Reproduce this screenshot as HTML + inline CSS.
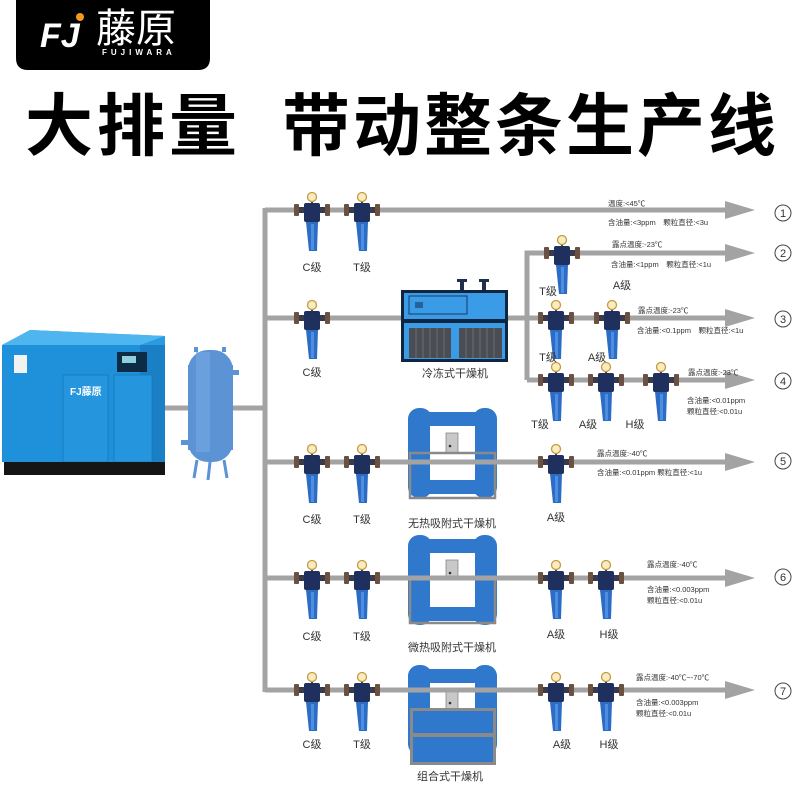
<!DOCTYPE html>
<html><head><meta charset="utf-8"><style>
html,body{margin:0;padding:0;background:#fff;}
svg{display:block;}
text{font-family:"Liberation Sans","Noto Sans CJK SC",sans-serif;}
</style></head><body>
<svg width="800" height="800" viewBox="0 0 800 800" xmlns="http://www.w3.org/2000/svg">
<defs>
<g id="f">
  <line x1="0" y1="-12" x2="0" y2="-6" stroke="#444" stroke-width="2"/>
  <circle cx="0" cy="-13" r="4.5" fill="#f7ecc2" stroke="#c79a3a" stroke-width="1.3"/>
  <rect x="-14" y="-3" width="28" height="6" fill="#3a3a4a"/>
  <rect x="-18" y="-6" width="5" height="12" rx="1" fill="#6b5142"/>
  <rect x="13" y="-6" width="5" height="12" rx="1" fill="#6b5142"/>
  <rect x="-8" y="-7" width="16" height="19" rx="2" fill="#1f2f5e"/>
  <polygon points="-6,12 6,12 5,41 -3,41" fill="#2c6cc4"/>
  <rect x="-1" y="14" width="3" height="26" fill="#4d8ee0"/>
</g>
<g id="ad">
  <rect x="0" y="0" width="24" height="90" rx="11" fill="#2f78cc"/>
  <rect x="65" y="0" width="24" height="90" rx="11" fill="#2f78cc"/>
  <rect x="12" y="4" width="65" height="82" fill="#2f78cc"/>
  <rect x="22" y="18" width="45" height="54" fill="#fff"/>
  <rect x="38" y="25" width="12" height="20" fill="#c8c8c8" stroke="#888" stroke-width="0.8"/>
  <circle cx="42" cy="38" r="1.3" fill="#333"/>
</g>
</defs>

<!-- logo -->
<path d="M16,0 H210 V58 Q210,70 198,70 H28 Q16,70 16,58 Z" fill="#000"/>
<text x="40" y="47" font-size="34" font-weight="bold" font-style="italic" fill="#fff">FJ</text>
<circle cx="80" cy="17" r="4" fill="#f39a1e"/>
<text x="96" y="42" font-size="40" fill="#fff">藤原</text>
<text x="102" y="55" font-size="8" font-weight="bold" fill="#fff" letter-spacing="4">FUJIWARA</text>

<!-- title -->
<text x="25" y="150" font-size="68" font-weight="bold" fill="#000" textLength="212">大排量</text>
<text x="282" y="150" font-size="68" font-weight="bold" fill="#000" textLength="494">带动整条生产线</text>

<!-- pipes -->
<g stroke="#a3a3a3" stroke-width="5" fill="none">
  <line x1="160" y1="408" x2="267" y2="408"/>
  <line x1="265" y1="208" x2="265" y2="692"/>
  <polyline points="265,210 730,210"/>
  <line x1="265" y1="318" x2="730" y2="318"/>
  <polyline points="527,380 527,253 730,253"/>
  <line x1="527" y1="380" x2="730" y2="380"/>
  <line x1="265" y1="462" x2="730" y2="462"/>
  <line x1="265" y1="578" x2="730" y2="578"/>
  <line x1="265" y1="690" x2="730" y2="690"/>
</g>
<g fill="#a3a3a3">
  <polygon points="725,201 755,210 725,219"/>
  <polygon points="725,244 755,253 725,262"/>
  <polygon points="725,309 755,318 725,327"/>
  <polygon points="725,371 755,380 725,389"/>
  <polygon points="725,453 755,462 725,471"/>
  <polygon points="725,569 755,578 725,587"/>
  <polygon points="725,681 755,690 725,699"/>
</g>

<!-- circled numbers -->
<g fill="none" stroke="#444" stroke-width="1">
  <circle cx="783" cy="213" r="8"/><circle cx="783" cy="253" r="8"/><circle cx="783" cy="319" r="8"/>
  <circle cx="783" cy="381" r="8"/><circle cx="783" cy="461" r="8"/><circle cx="783" cy="577" r="8"/><circle cx="783" cy="691" r="8"/>
</g>
<g font-size="11" fill="#333" text-anchor="middle">
  <text x="783" y="217">1</text><text x="783" y="257">2</text><text x="783" y="323">3</text>
  <text x="783" y="385">4</text><text x="783" y="465">5</text><text x="783" y="581">6</text><text x="783" y="695">7</text>
</g>

<!-- compressor -->
<polygon points="2,345 30,330 165,336 165,462 2,462" fill="#2a9be0"/>
<polygon points="2,345 30,330 165,336 140,345" fill="#4fb5ee"/>
<rect x="2" y="345" width="138" height="117" fill="#1f90da"/>
<rect x="140" y="345" width="25" height="117" fill="#1a7fc4"/>
<rect x="63" y="375" width="45" height="87" fill="#2596de" stroke="#1677b8" stroke-width="0.8"/>
<rect x="114" y="375" width="38" height="87" fill="#2596de" stroke="#1677b8" stroke-width="0.8"/>
<rect x="117" y="352" width="30" height="20" fill="#0d2b44"/>
<rect x="122" y="356" width="14" height="7" fill="#8fd0e0"/>
<rect x="14" y="355" width="13" height="18" fill="#f2f2f2"/>
<text x="70" y="395" font-size="10" font-weight="bold" fill="#fff">FJ藤原</text>
<rect x="4" y="462" width="161" height="13" fill="#151515"/>

<!-- tank -->
<rect x="188" y="350" width="45" height="112" rx="20" fill="#5b93d4"/>
<rect x="188" y="365" width="45" height="85" fill="#5b93d4"/>
<rect x="196" y="352" width="14" height="100" fill="#74a8e2" opacity="0.6"/>
<rect x="233" y="370" width="6" height="5" fill="#5b93d4"/>
<rect x="181" y="440" width="7" height="5" fill="#5b93d4"/>
<g stroke="#5b93d4" stroke-width="3"><line x1="197" y1="460" x2="194" y2="478"/><line x1="224" y1="460" x2="227" y2="478"/><line x1="210" y1="462" x2="208" y2="480"/></g>
<rect x="194" y="347" width="4" height="5" fill="#5b93d4"/><rect x="222" y="347" width="4" height="5" fill="#5b93d4"/>

<!-- refrigerated dryer -->
<rect x="460" y="279" width="4" height="11" fill="#1f2f4e"/><rect x="457" y="279" width="10" height="3" fill="#1f2f4e"/>
<rect x="482" y="279" width="4" height="11" fill="#1f2f4e"/><rect x="479" y="279" width="10" height="3" fill="#1f2f4e"/>
<rect x="401" y="290" width="107" height="72" fill="#0f2540"/>
<rect x="404" y="293" width="101" height="26" fill="#3a9be6"/>
<rect x="404" y="323" width="101" height="36" fill="#3a9be6"/>
<rect x="409" y="296" width="58" height="18" fill="none" stroke="#1a3a66" stroke-width="1"/>
<rect x="415" y="302" width="8" height="6" fill="#1a3a66" opacity="0.6"/>
<rect x="409" y="328" width="42" height="30" fill="#4a4e54"/>
<rect x="459" y="328" width="43" height="30" fill="#4a4e54"/>
<g stroke="#6a6e74" stroke-width="1"><line x1="416" y1="328" x2="416" y2="358"/><line x1="423" y1="328" x2="423" y2="358"/><line x1="430" y1="328" x2="430" y2="358"/><line x1="437" y1="328" x2="437" y2="358"/><line x1="444" y1="328" x2="444" y2="358"/>
<line x1="466" y1="328" x2="466" y2="358"/><line x1="473" y1="328" x2="473" y2="358"/><line x1="480" y1="328" x2="480" y2="358"/><line x1="487" y1="328" x2="487" y2="358"/><line x1="494" y1="328" x2="494" y2="358"/></g>

<!-- adsorption dryers -->
<use href="#ad" x="408" y="408"/>
<rect x="410" y="453" width="85" height="45" fill="none" stroke="#8a8a8a" stroke-width="2.5"/>
<line x1="408" y1="462" x2="497" y2="462" stroke="#a3a3a3" stroke-width="5"/>
<use href="#ad" x="408" y="535"/>
<rect x="410" y="578" width="85" height="45" fill="none" stroke="#8a8a8a" stroke-width="2.5"/>
<line x1="408" y1="578" x2="497" y2="578" stroke="#a3a3a3" stroke-width="5"/>
<use href="#ad" x="408" y="665"/>
<line x1="408" y1="690" x2="497" y2="690" stroke="#a3a3a3" stroke-width="5"/>
<rect x="410" y="708" width="86" height="57" fill="#8a8a8a"/>
<rect x="413" y="711" width="80" height="22" fill="#2f78cc"/>
<rect x="413" y="737" width="80" height="25" fill="#2f78cc"/>

<!-- filters -->
<use href="#f" x="312" y="210"/><use href="#f" x="362" y="210"/>
<use href="#f" x="562" y="253"/>
<use href="#f" x="312" y="318"/><use href="#f" x="556" y="318"/><use href="#f" x="612" y="318"/>
<use href="#f" x="556" y="380"/><use href="#f" x="606" y="380"/><use href="#f" x="661" y="380"/>
<use href="#f" x="312" y="462"/><use href="#f" x="362" y="462"/><use href="#f" x="556" y="462"/>
<use href="#f" x="312" y="578"/><use href="#f" x="362" y="578"/><use href="#f" x="556" y="578"/><use href="#f" x="606" y="578"/>
<use href="#f" x="312" y="690"/><use href="#f" x="362" y="690"/><use href="#f" x="556" y="690"/><use href="#f" x="606" y="690"/>

<!-- filter labels -->
<g font-size="11" fill="#333" text-anchor="middle">
  <text x="312" y="271">C级</text><text x="362" y="271">T级</text>
  <text x="548" y="295">T级</text><text x="622" y="289">A级</text>
  <text x="312" y="376">C级</text><text x="548" y="361">T级</text><text x="597" y="361">A级</text>
  <text x="540" y="428">T级</text><text x="588" y="428">A级</text><text x="635" y="428">H级</text>
  <text x="312" y="523">C级</text><text x="362" y="523">T级</text><text x="556" y="521">A级</text>
  <text x="312" y="640">C级</text><text x="362" y="640">T级</text><text x="556" y="638">A级</text><text x="609" y="638">H级</text>
  <text x="312" y="748">C级</text><text x="362" y="748">T级</text><text x="562" y="748">A级</text><text x="609" y="748">H级</text>
  <text x="455" y="377">冷冻式干燥机</text>
  <text x="452" y="527">无热吸附式干燥机</text>
  <text x="452" y="651">微热吸附式干燥机</text>
  <text x="450" y="780">组合式干燥机</text>
</g>

<!-- spec texts -->
<g font-size="7.5" fill="#333">
  <text x="608" y="206">温度:&lt;45℃</text>
  <text x="608" y="225">含油量:&lt;3ppm　颗粒直径:&lt;3u</text>
  <text x="612" y="247">露点温度:-23℃</text>
  <text x="611" y="267">含油量:&lt;1ppm　颗粒直径:&lt;1u</text>
  <text x="638" y="313">露点温度:-23℃</text>
  <text x="637" y="333">含油量:&lt;0.1ppm　颗粒直径:&lt;1u</text>
  <text x="688" y="375">露点温度:-23℃</text>
  <text x="687" y="403">含油量:&lt;0.01ppm</text>
  <text x="687" y="414">颗粒直径:&lt;0.01u</text>
  <text x="597" y="456">露点温度:-40℃</text>
  <text x="597" y="475">含油量:&lt;0.01ppm 颗粒直径:&lt;1u</text>
  <text x="647" y="567">露点温度:-40℃</text>
  <text x="647" y="592">含油量:&lt;0.003ppm</text>
  <text x="647" y="603">颗粒直径:&lt;0.01u</text>
  <text x="636" y="680">露点温度:-40℃~-70℃</text>
  <text x="636" y="705">含油量:&lt;0.003ppm</text>
  <text x="636" y="716">颗粒直径:&lt;0.01u</text>
</g>
</svg>
</body></html>
